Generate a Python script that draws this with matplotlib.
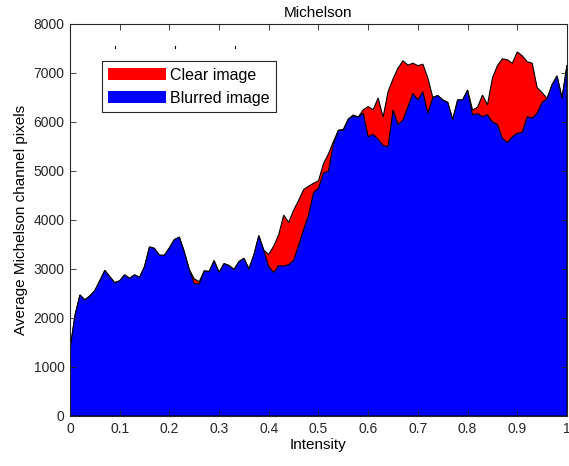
import matplotlib
matplotlib.use("Agg")
import matplotlib.pyplot as plt
from matplotlib.patches import Patch
import numpy as np

plt.rcParams['font.family'] = ['Liberation Sans', 'DejaVu Sans']

intensity = [i / 100 for i in range(101)]

blurred = [1350, 2050, 2470, 2370, 2450, 2560, 2760, 2970, 2845, 2720,
           2760, 2880, 2810, 2880, 2830, 3050, 3450, 3420, 3280, 3280,
           3430, 3600, 3650, 3350, 2990, 2700, 2695, 2960, 2950, 3170,
           2930, 3110, 3070, 2990, 3150, 3220, 3000, 3290, 3680, 3380,
           3050, 2930, 3070, 3060, 3090, 3180, 3480, 3800, 4100, 4560,
           4650, 4960, 5000, 5550, 5830, 5830, 6060, 6120, 6100, 6180,
           5700, 5750, 5650, 5520, 5500, 6245, 5950, 6040, 6315, 6585,
           6450, 6620, 6180, 6500, 6540, 6450, 6400, 6050, 6450, 6450,
           6650, 6150, 6170, 6110, 6150, 6000, 5950, 5670, 5580, 5700,
           5770, 5790, 6110, 6080, 6180, 6400, 6480, 6760, 6940, 6485,
           7160]

clear = [1350, 2050, 2470, 2370, 2450, 2560, 2760, 2970, 2845, 2720,
         2760, 2880, 2810, 2880, 2830, 3050, 3450, 3420, 3280, 3280,
         3430, 3600, 3650, 3350, 2990, 2800, 2740, 2960, 2950, 3170,
         2930, 3110, 3070, 2990, 3150, 3220, 3000, 3290, 3680, 3380,
         3300, 3470, 3700, 4100, 3950, 4200, 4400, 4620, 4690, 4750,
         4800, 5150, 5350, 5600, 5830, 5850, 6060, 6145, 6100, 6250,
         6315, 6250, 6490, 6100, 6620, 6880, 7100, 7250, 7160, 7200,
         7150, 7180, 6900, 6500, 6540, 6450, 6400, 6050, 6450, 6450,
         6650, 6245, 6300, 6550, 6350, 6900, 7150, 7290, 7270, 7200,
         7430, 7350, 7230, 7200, 6700, 6600, 6480, 6760, 6940, 6485,
         7160]

xticks = [0, 0.1, 0.2, 0.3, 0.4, 0.5, 0.6, 0.7, 0.8, 0.9, 1]
xticklabels = ['0', '0.1', '0.2', '0.3', '0.4', '0.5', '0.6', '0.7', '0.8', '0.9', '1']
yticks = [0, 1000, 2000, 3000, 4000, 5000, 6000, 7000, 8000]

fig = plt.figure(figsize=(5.69, 4.66), dpi=100)
ax = fig.add_axes([0.123, 0.1073, 0.8735, 0.8412])

def area(x, y, color):
    xs = [x[0]] + list(x) + [x[-1]]
    ys = [0] + list(y) + [0]
    ax.fill(xs, ys, facecolor=color, edgecolor='black', linewidth=0.8)

area(intensity, clear, '#ff0000')
area(intensity, blurred, '#0000ff')

ax.set_xlim(0, 1)
ax.set_ylim(0, 8000)
ax.set_xticks(xticks)
ax.set_xticklabels(xticklabels)
ax.set_yticks(yticks)
ax.tick_params(direction='in', top=True, right=True, labelsize=10, length=4,
               width=0.6, colors='#262626', pad=4)
for s in ax.spines.values():
    s.set_linewidth(0.8)
    s.set_color('#262626')

ax.set_title('Michelson', fontsize=11, pad=5)
ax.set_xlabel('Intensity', fontsize=11, labelpad=2)
ax.set_ylabel('Average Michelson channel pixels', fontsize=11, labelpad=4)

# small stray marks above legend
for xm in [0.091, 0.211, 0.332]:
    ax.plot([xm, xm], [0.938, 0.944], transform=ax.transAxes, color='black', lw=0.8)

handles = [Patch(facecolor='#ff0000', edgecolor='none', label='Clear image'),
           Patch(facecolor='#0000ff', edgecolor='none', label='Blurred image')]
leg = ax.legend(handles=handles, loc='upper left', bbox_to_anchor=(0.064, 0.905),
                fontsize=11.5, frameon=True, fancybox=False, framealpha=1,
                edgecolor='#262626', handlelength=3.6, handleheight=0.8,
                handletextpad=0.3, borderpad=0.4, labelspacing=0.5,
                borderaxespad=0)
leg.get_frame().set_linewidth(0.8)

fig.savefig('out.png', dpi=100)
